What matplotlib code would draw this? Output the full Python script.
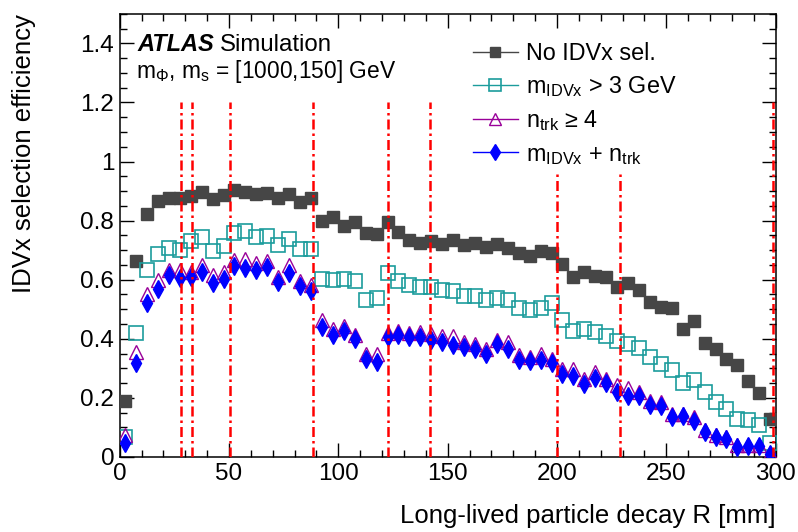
import matplotlib
matplotlib.use("Agg")
import matplotlib.pyplot as plt
from matplotlib.lines import Line2D
from matplotlib.ticker import MultipleLocator, FuncFormatter
import numpy as np

plt.rcParams["font.family"] = ["Liberation Sans", "DejaVu Sans"]
plt.rcParams["mathtext.fontset"] = "custom"
plt.rcParams["mathtext.rm"] = "Liberation Sans"
plt.rcParams["mathtext.it"] = "Liberation Sans:italic"
plt.rcParams["mathtext.bf"] = "Liberation Sans:bold"

# bin centres of the decay radius [mm], 5 mm bins
r_centres = np.arange(2.5, 300, 5)

eff_no_sel = [0.19, 0.662, 0.824, 0.867, 0.876, 0.878, 0.884, 0.898, 0.872, 0.887,
              0.903, 0.898, 0.891, 0.895, 0.876, 0.889, 0.864, 0.876, 0.799, 0.812,
              0.782, 0.796, 0.757, 0.754, 0.796, 0.760, 0.734, 0.723, 0.730, 0.721,
              0.734, 0.717, 0.723, 0.712, 0.721, 0.707, 0.692, 0.681, 0.698, 0.689,
              0.653, 0.608, 0.625, 0.614, 0.608, 0.574, 0.589, 0.566, 0.524, 0.509,
              0.505, 0.432, 0.460, 0.387, 0.364, 0.333, 0.310, 0.257, 0.215, 0.130]

eff_mass = [0.069, 0.420, 0.634, 0.687, 0.709, 0.700, 0.732, 0.745, 0.698, 0.715,
            0.757, 0.766, 0.745, 0.749, 0.718, 0.737, 0.704, 0.704, 0.603, 0.600,
            0.603, 0.597, 0.533, 0.539, 0.623, 0.594, 0.582, 0.574, 0.576, 0.566,
            0.561, 0.544, 0.544, 0.530, 0.539, 0.530, 0.505, 0.496, 0.505, 0.520,
            0.464, 0.428, 0.432, 0.423, 0.408, 0.391, 0.383, 0.370, 0.338, 0.316,
            0.296, 0.251, 0.262, 0.220, 0.187, 0.164, 0.130, 0.125, 0.108, 0.046]

eff_ntrk = [0.074, 0.355, 0.552, 0.599, 0.633, 0.633, 0.625, 0.650, 0.617, 0.627,
            0.667, 0.670, 0.655, 0.662, 0.610, 0.650, 0.597, 0.583, 0.464, 0.432,
            0.442, 0.414, 0.347, 0.347, 0.420, 0.426, 0.420, 0.423, 0.417, 0.411,
            0.408, 0.389, 0.381, 0.367, 0.397, 0.389, 0.344, 0.338, 0.347, 0.331,
            0.299, 0.299, 0.265, 0.288, 0.265, 0.243, 0.232, 0.220, 0.190, 0.187,
            0.144, 0.147, 0.134, 0.093, 0.074, 0.066, 0.040, 0.042, 0.042, 0.012]

eff_both = [0.048, 0.318, 0.522, 0.569, 0.617, 0.606, 0.609, 0.627, 0.588, 0.603,
            0.648, 0.640, 0.633, 0.644, 0.591, 0.622, 0.580, 0.563, 0.440, 0.412,
            0.428, 0.400, 0.333, 0.321, 0.406, 0.414, 0.406, 0.406, 0.395, 0.389,
            0.378, 0.372, 0.364, 0.350, 0.383, 0.364, 0.329, 0.325, 0.329, 0.317,
            0.282, 0.274, 0.248, 0.267, 0.251, 0.220, 0.207, 0.205, 0.175, 0.173,
            0.134, 0.138, 0.122, 0.085, 0.066, 0.060, 0.035, 0.037, 0.037, 0.010]

# detector material layers [mm]
layer_radii = [28.0, 33.25, 50.5, 88.5, 122.5, 142.0, 200.0, 229.0, 299.0]

series = [
    (eff_no_sel, "No IDVx sel.", dict(marker="s", color="#464646", mfc="#464646", ms=9)),
    (eff_mass, r"m$_{\mathrm{IDVx}}$ > 3 GeV", dict(marker="s", color="#1b9c9c", mfc="none", ms=9.5, mew=1.2)),
    (eff_ntrk, r"n$_{\mathrm{trk}}$ ≥ 4", dict(marker="^", color="#990099", mfc="none", ms=10, mew=1.0)),
    (eff_both, r"m$_{\mathrm{IDVx}}$ + n$_{\mathrm{trk}}$", dict(marker="d", color="#0000ff", mfc="#0000ff", ms=9)),
]

fig = plt.figure(figsize=(7.98, 5.32), dpi=100)
ax = fig.add_axes([0.150, 0.141, 0.822, 0.833])

handles = []
for vals, label, style in series:
    ax.plot(r_centres, vals, linestyle="none", zorder=3, **style)
    leg_style = dict(style)
    leg_style["ms"] = style["ms"] * 0.85
    handles.append(Line2D([], [], linestyle="-", lw=1.0, label=label, **leg_style))

ax.vlines(layer_radii, 0, 1.2, colors="#ff0000", linestyles=(0, (4, 1.6, 1, 1.6)),
          linewidth=1.8, zorder=4)

ax.set_xlim(0, 300)
ax.set_ylim(0, 1.5)

ax.xaxis.set_major_locator(MultipleLocator(50))
ax.xaxis.set_minor_locator(MultipleLocator(10))
ax.yaxis.set_major_locator(MultipleLocator(0.2))
ax.yaxis.set_minor_locator(MultipleLocator(0.05))
ax.yaxis.set_major_formatter(FuncFormatter(lambda v, _: f"{v:g}"))
ax.tick_params(which="both", direction="in", top=True, right=True, labelsize=17.5, width=1.0)
ax.tick_params(which="major", length=10)
ax.tick_params(which="minor", length=5)
ax.tick_params(axis="x", which="major", pad=4)
ax.tick_params(axis="y", which="major", pad=4)
for sp in ax.spines.values():
    sp.set_linewidth(1.1)

ax.set_xlabel("Long-lived particle decay R [mm]", fontsize=18.5, loc="right")
ax.xaxis.set_label_coords(1.0, -0.106)
ax.set_ylabel("IDVx selection efficiency", fontsize=18.5, loc="top")
ax.yaxis.set_label_coords(-0.128, 1.0)

ax.text(0.0274, 0.916, "ATLAS", transform=ax.transAxes, fontsize=17,
        fontweight="bold", fontstyle="italic", va="baseline")
ax.text(0.1524, 0.916, "Simulation", transform=ax.transAxes, fontsize=17.3, va="baseline")
ax.text(0.0255, 0.8555, r"m$_{\Phi}$, m$_{\mathrm{s}}$ = [1000,150] GeV", transform=ax.transAxes,
        fontsize=16.4, va="baseline")

leg = ax.legend(handles=handles, loc="upper left", bbox_to_anchor=(0.53, 0.95),
                fontsize=16.8, frameon=True, handlelength=1.9, handletextpad=0.38,
                labelspacing=0.4, borderpad=0.25, borderaxespad=0, numpoints=1)
leg.get_frame().set_facecolor("white")
leg.get_frame().set_edgecolor("none")
leg.get_frame().set_alpha(1.0)
leg.get_frame().set_boxstyle("square", pad=0)
leg.set_zorder(10)

fig.savefig("out.png", dpi=100)
